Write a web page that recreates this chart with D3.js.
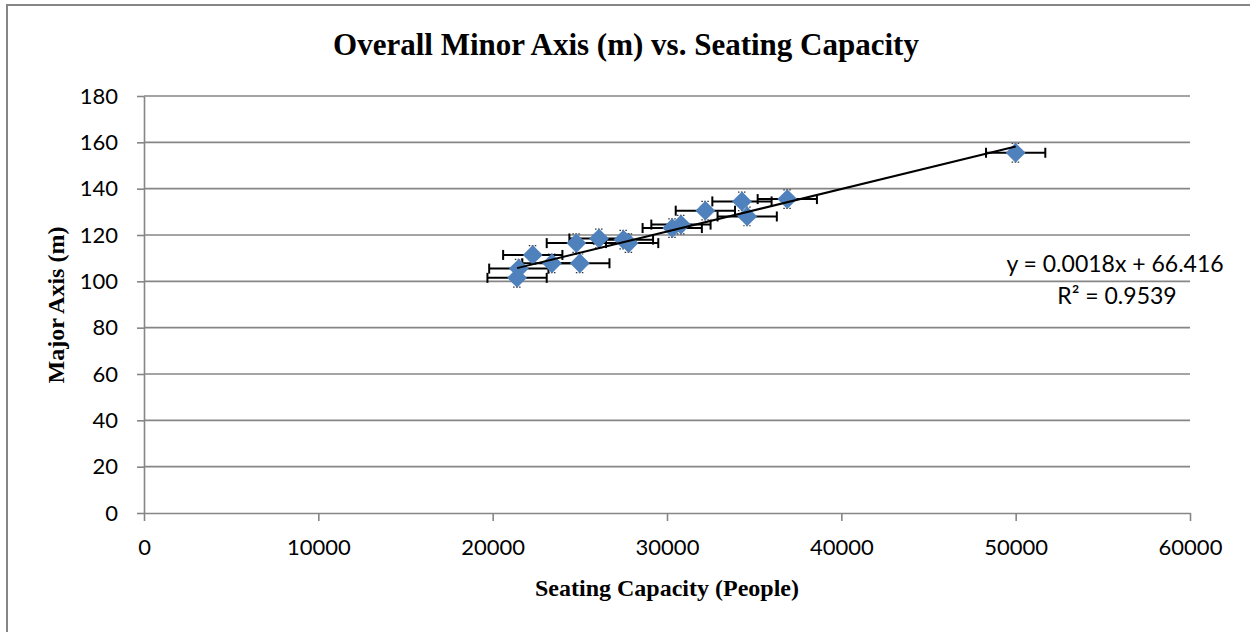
<!DOCTYPE html>
<html>
<head>
<meta charset="utf-8">
<script src="https://cdn.jsdelivr.net/npm/d3@7"></script>
<style>
  html, body { margin: 0; padding: 0; background: #fff; }
  svg { display: block; }
</style>
</head>
<body>
<svg id="chart" width="1250" height="632"></svg>
<script>
// ---- data ----
const seatingCapacity = [21400, 21500, 22300, 23400, 24800, 25000, 26100, 27500, 27800, 30300, 30800, 32200, 34300, 34600, 36900, 50000];
const majorAxis       = [101.5, 105.5, 111.4, 107.8, 116.5, 107.8, 118.5, 118.0, 116.5, 123.0, 124.5, 130.5, 134.5, 128.0, 135.5, 155.5];
const seatingError = [1700, 1700, 1700, 1700, 1700, 1700, 1700, 1700, 1700, 1700, 1700, 1700, 1700, 1700, 1700, 1700];
const majorError   = [4, 4, 4, 4, 4, 4, 4, 4, 4, 4, 4, 4, 4, 4, 4, 4];
const xTicks = [0, 10000, 20000, 30000, 40000, 50000, 60000];
const yTicks = [0, 20, 40, 60, 80, 100, 120, 140, 160, 180];
const trendSlope = 0.001836;
const trendIntercept = 66.416;
const equationLabel = "y = 0.0018x + 66.416";
const r2Label = "R² = 0.9539";
const titleText = "Overall Minor Axis (m) vs. Seating Capacity";
const xTitle = "Seating Capacity (People)";
const yTitle = "Major Axis (m)";

const points = seatingCapacity.map((s, i) => ({ x: s, y: majorAxis[i], ex: seatingError[i], ey: majorError[i] }));

const svg = d3.select("#chart");
const W = 1250, H = 632;
svg.append("rect").attr("width", W).attr("height", H).attr("fill", "#fff");
// chart border (only left/top visible in frame)
svg.append("rect").attr("x", 7).attr("y", 5).attr("width", 1300).attr("height", 700)
  .attr("fill", "none").attr("stroke", "#868686").attr("stroke-width", 2);

const x = d3.scaleLinear().domain([0, 60000]).range([144, 1190]);
const y = d3.scaleLinear().domain([0, 180]).range([513, 96]);

const gridColor = "#868686";
const tickFont = "Lato, 'Open Sans', sans-serif";

// gridlines
svg.append("g").selectAll("line").data(yTicks.filter(d => d > 0)).join("line")
  .attr("x1", x(0)).attr("x2", x(60000))
  .attr("y1", d => y(d)).attr("y2", d => y(d))
  .attr("stroke", gridColor).attr("stroke-width", 1.6);

// y axis
const yAxis = svg.append("g").attr("transform", `translate(${x(0)},0)`)
  .call(d3.axisLeft(y).tickValues(yTicks).tickSize(7).tickPadding(19).tickSizeOuter(0));
// x axis
const xAxis = svg.append("g").attr("transform", `translate(0,${y(0)})`)
  .call(d3.axisBottom(x).tickValues(xTicks).tickFormat(d3.format("d")).tickSize(8).tickPadding(18).tickSizeOuter(0));

[yAxis, xAxis].forEach(g => {
  g.select(".domain").attr("stroke", gridColor).attr("stroke-width", 1.6);
  g.selectAll(".tick line").attr("stroke", gridColor).attr("stroke-width", 1.6);
  g.selectAll(".tick text").attr("fill", "#000").style("font-family", tickFont).style("font-size", "22px");
});

// error bars (y) - small, mostly hidden by markers
const ebY = svg.append("g").attr("stroke", "#333").attr("stroke-width", 1.2).attr("fill", "none");
points.forEach(p => {
  const cx = x(p.x), y0 = y(p.y - p.ey), y1 = y(p.y + p.ey);
  ebY.append("line").attr("x1", cx).attr("x2", cx).attr("y1", y0).attr("y2", y1);
  ebY.append("line").attr("x1", cx - 4).attr("x2", cx + 4).attr("y1", y0).attr("y2", y0).attr("stroke-dasharray", "1.5,1.5");
  ebY.append("line").attr("x1", cx - 4).attr("x2", cx + 4).attr("y1", y1).attr("y2", y1).attr("stroke-dasharray", "1.5,1.5");
});

// error bars (x)
const eb = svg.append("g").attr("stroke", "#000").attr("stroke-width", 2).attr("fill", "none");
const capH = 5;
points.forEach(p => {
  const cy = y(p.y), x0 = x(p.x - p.ex), x1 = x(p.x + p.ex);
  eb.append("line").attr("x1", x0).attr("x2", x1).attr("y1", cy).attr("y2", cy);
  eb.append("line").attr("x1", x0).attr("x2", x0).attr("y1", cy - capH).attr("y2", cy + capH);
  eb.append("line").attr("x1", x1).attr("x2", x1).attr("y1", cy - capH).attr("y2", cy + capH);
});

// markers (diamonds)
const diamond = d3.symbol().type(d3.symbolDiamond2).size(250);
svg.append("g").selectAll("path").data(points).join("path")
  .attr("d", diamond)
  .attr("transform", d => `translate(${x(d.x)},${y(d.y)})`)
  .attr("fill", "#4F81BD");

// trendline
const xMin = d3.min(seatingCapacity), xMax = d3.max(seatingCapacity);
svg.append("line")
  .attr("x1", x(xMin)).attr("y1", y(trendSlope * xMin + trendIntercept))
  .attr("x2", x(xMax)).attr("y2", y(trendSlope * xMax + trendIntercept))
  .attr("stroke", "#000").attr("stroke-width", 2);

// equation labels
svg.append("text").attr("x", 1115).attr("y", 272).attr("text-anchor", "middle")
  .style("font-family", tickFont).style("font-size", "23px").text(equationLabel);
svg.append("text").attr("x", 1117).attr("y", 304).attr("text-anchor", "middle")
  .style("font-family", tickFont).style("font-size", "23px").text(r2Label);

// titles
const serif = "'Liberation Serif', 'Times New Roman', serif";
svg.append("text").attr("x", 626).attr("y", 55).attr("text-anchor", "middle")
  .style("font-family", serif).style("font-weight", "bold").style("font-size", "31px").text(titleText);
svg.append("text").attr("x", 667).attr("y", 596).attr("text-anchor", "middle")
  .style("font-family", serif).style("font-weight", "bold").style("font-size", "24px").text(xTitle);
svg.append("text").attr("transform", "translate(64,305) rotate(-90)").attr("text-anchor", "middle")
  .style("font-family", serif).style("font-weight", "bold").style("font-size", "24px").text(yTitle);
</script>
</body>
</html>
